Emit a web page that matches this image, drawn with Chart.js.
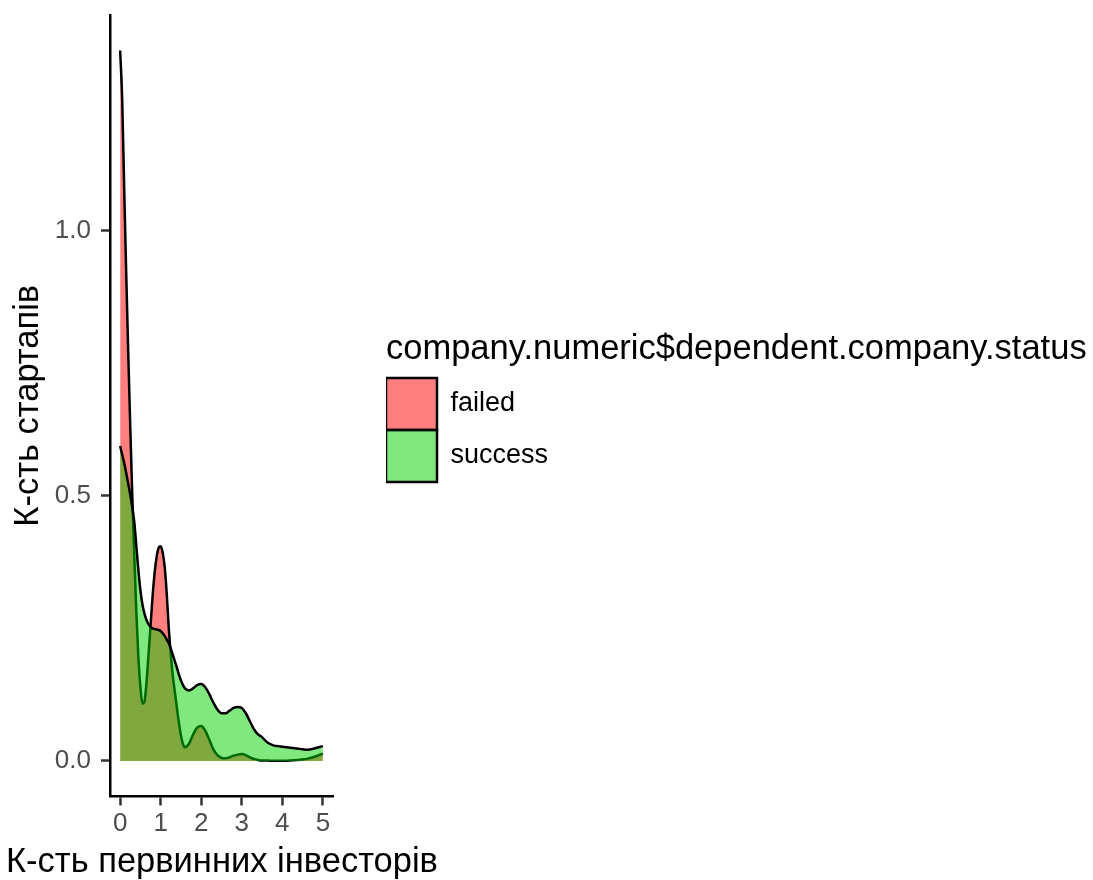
<!DOCTYPE html>
<html>
<head>
<meta charset="utf-8">
<script src="https://cdn.jsdelivr.net/npm/chart.js@4/dist/chart.umd.min.js"></script>
<style>
  html, body { margin: 0; padding: 0; background: #ffffff; }
  canvas { display: block; }
</style>
</head>
<body>
<canvas id="chart" width="1093" height="880"></canvas>
<script>
// Number of early investors (x) at which each density is evaluated
const investors = [
  0, 0.05, 0.1, 0.15, 0.2, 0.25, 0.3, 0.35, 0.4, 0.45,
  0.5, 0.55, 0.6, 0.65, 0.7, 0.75, 0.8, 0.85, 0.9, 0.95,
  1.0, 1.05, 1.1, 1.15, 1.2, 1.25, 1.3, 1.35, 1.4, 1.45,
  1.5, 1.55, 1.6, 1.7, 1.8, 1.9, 2.0, 2.1, 2.2, 2.3,
  2.4, 2.5, 2.6, 2.7, 2.8, 2.9, 3.0, 3.1, 3.2, 3.3,
  3.4, 3.5, 3.6, 3.7, 3.8, 3.9, 4.0, 4.1, 4.2, 4.3,
  4.4, 4.5, 4.6, 4.7, 4.8, 4.9, 5.0
];

// Density of failed startups
const failedDensity = [
  1.34, 1.25, 1.08, 0.92, 0.77, 0.63, 0.50, 0.385, 0.28, 0.195,
  0.14, 0.108, 0.112, 0.148, 0.20, 0.255, 0.31, 0.355, 0.385, 0.402,
  0.405, 0.393, 0.365, 0.315, 0.25, 0.20, 0.16, 0.13, 0.10, 0.072,
  0.048, 0.032, 0.026, 0.033, 0.05, 0.063, 0.066, 0.057, 0.04, 0.022,
  0.011, 0.006, 0.005, 0.007, 0.01, 0.012, 0.013, 0.011, 0.007, 0.004,
  0.002, 0.001, 0.001, 0.0005, 0.0005, 0.0005, 0.0005, 0.0005, 0.001, 0.0015,
  0.002, 0.003, 0.004, 0.006, 0.008, 0.011, 0.014
];

// Density of successful startups
const successDensity = [
  0.594, 0.578, 0.562, 0.543, 0.523, 0.502, 0.478, 0.45, 0.405, 0.36,
  0.322, 0.295, 0.278, 0.266, 0.258, 0.253, 0.25, 0.249, 0.248, 0.247,
  0.245, 0.241, 0.236, 0.229, 0.222, 0.212, 0.20, 0.188, 0.176, 0.163,
  0.152, 0.143, 0.137, 0.133, 0.137, 0.143, 0.145, 0.139, 0.126, 0.11,
  0.097, 0.09, 0.09, 0.095, 0.10, 0.102, 0.10, 0.09, 0.075, 0.06,
  0.05, 0.045, 0.037, 0.032, 0.029, 0.028, 0.027, 0.026, 0.025, 0.024,
  0.023, 0.022, 0.021, 0.022, 0.024, 0.026, 0.028
];

const statusLabels = ['failed', 'success'];
const xTicks = [0, 1, 2, 3, 4, 5];
const yTicks = [0, 0.5, 1.0];

const legendTitle = 'company.numeric$dependent.company.status';
const xTitle = 'К-сть первинних інвесторів';
const yTitle = 'К-сть стартапів';

// Layout constants (pixels)
const PLOT_LEFT = 110;
const PAD_LEFT = 6;
const X_AXIS_H = 49;
const LEGEND_GAP = 53;
const LEGEND_W = 707;

Chart.defaults.font.family = "'Liberation Sans', Arial, Helvetica, sans-serif";

const toPoints = ys => investors.map((x, i) => ({ x: x, y: ys[i] }));

// Keeps the legend block wide enough for its long title.
const legendWidthPlugin = {
  id: 'legendWidth',
  beforeLayout(chart) {
    const legend = chart.legend;
    if (!legend || legend._widthPatched) return;
    const fit = legend.fit;
    legend.fit = function () {
      fit.call(this);
      this.width = LEGEND_W;
    };
    legend._widthPatched = true;
  }
};

// Panel edges are fixed by the layout padding, not by label overhang.
const noEdgePadding = s => {
  s.paddingTop = 0;
  s.paddingBottom = 0;
  s.paddingLeft = 0;
  s.paddingRight = 0;
};

const axisTicks = {
  display: true,
  drawOnChartArea: false,
  drawTicks: true,
  tickLength: 9,
  tickWidth: 2.5,
  tickColor: '#333333'
};

new Chart(document.getElementById('chart'), {
  type: 'line',
  data: {
    datasets: [
      {
        label: statusLabels[0],
        data: toPoints(failedDensity),
        backgroundColor: 'rgba(255, 0, 0, 0.5)',
        borderColor: '#000000',
        borderWidth: 2.5,
        fill: 'origin',
        pointRadius: 0,
        cubicInterpolationMode: 'monotone',
        order: 2
      },
      {
        label: statusLabels[1],
        data: toPoints(successDensity),
        backgroundColor: 'rgba(0, 210, 0, 0.5)',
        borderColor: '#000000',
        borderWidth: 2.5,
        fill: 'origin',
        pointRadius: 0,
        cubicInterpolationMode: 'monotone',
        order: 1
      }
    ]
  },
  options: {
    responsive: false,
    animation: false,
    devicePixelRatio: 1,
    layout: { padding: { top: 15, left: PAD_LEFT, right: 0, bottom: 0 } },
    plugins: {
      tooltip: { enabled: false },
      title: {
        display: true,
        position: 'bottom',
        align: 'start',
        text: xTitle,
        color: '#000000',
        font: { size: 34.5, weight: 'normal', lineHeight: 1.0 },
        padding: { top: 0, bottom: 0 }
      },
      legend: {
        display: true,
        position: 'right',
        align: 'center',
        fullSize: false,
        title: {
          display: true,
          text: legendTitle,
          color: '#000000',
          position: 'start',
          font: { size: 34.5 },
          padding: { top: 3, bottom: 4 }
        },
        labels: {
          boxWidth: 51,
          boxHeight: 52,
          padding: 0,
          color: '#000000',
          font: { size: 27 },
          sort: (a, b) => a.datasetIndex - b.datasetIndex
        }
      }
    },
    scales: {
      x: {
        type: 'linear',
        min: -0.25,
        max: 5.25,
        afterBuildTicks: s => { s.ticks = xTicks.map(v => ({ value: v })); },
        afterFit: s => { s.height = X_AXIS_H; noEdgePadding(s); },
        ticks: {
          color: '#4d4d4d',
          font: { size: 26 },
          padding: 3,
          maxRotation: 0,
          autoSkip: false,
          callback: v => String(v)
        },
        grid: axisTicks,
        border: { display: true, color: '#000000', width: 2.5 }
      },
      y: {
        type: 'linear',
        min: -0.067,
        max: 1.407,
        afterBuildTicks: s => { s.ticks = yTicks.map(v => ({ value: v })); },
        afterFit: s => { s.width = PLOT_LEFT - PAD_LEFT; noEdgePadding(s); },
        ticks: {
          color: '#4d4d4d',
          font: { size: 26 },
          padding: 10,
          callback: v => Number(v).toFixed(1)
        },
        grid: axisTicks,
        border: { display: true, color: '#000000', width: 2.5 },
        title: {
          display: true,
          text: yTitle,
          color: '#000000',
          font: { size: 34.5 },
          padding: { top: 2, bottom: 0 }
        }
      },
      gap: {
        type: 'linear',
        axis: 'y',
        position: 'right',
        display: true,
        afterFit: s => { s.width = LEGEND_GAP; noEdgePadding(s); },
        ticks: { display: false },
        grid: { display: false },
        border: { display: false }
      }
    }
  },
  plugins: [legendWidthPlugin]
});
</script>
</body>
</html>
